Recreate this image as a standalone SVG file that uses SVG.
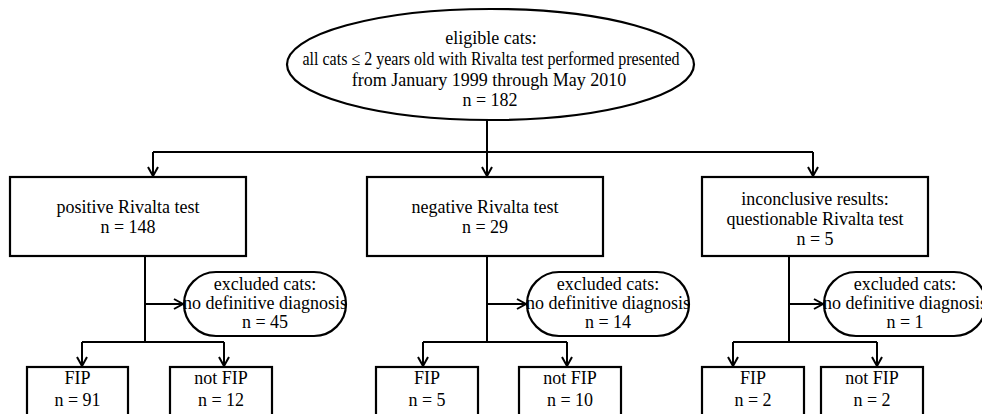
<svg xmlns="http://www.w3.org/2000/svg" width="982" height="414" viewBox="0 0 982 414">
<defs>
<marker id="arr" markerUnits="userSpaceOnUse" markerWidth="14" markerHeight="14" viewBox="-12 -7 14 14" refX="0" refY="0" orient="auto">
<path d="M-9,-5 L0,0 L-9,5" fill="none" stroke="#000" stroke-width="2"/>
</marker>
</defs>
<style>
.n{fill:#fff;stroke:#000;stroke-width:2.2}
.c{fill:none;stroke:#000;stroke-width:2}
.a{marker-end:url(#arr)}
text{font-family:"Liberation Serif","Times New Roman",serif;font-size:18px;text-anchor:middle;fill:#000}
</style>
<rect width="982" height="414" fill="#fff"/>
<g id="connectors">
<path class="c" d="M487,120 V152 M153,152 H813"/>
<path class="c a" d="M153,152 V176"/>
<path class="c a" d="M487,152 V176"/>
<path class="c a" d="M813,152 V176"/>
<path class="c" d="M145,257 V342 M82,342 H224"/>
<path class="c a" d="M145,304 H183"/>
<path class="c a" d="M82,342 V366"/>
<path class="c a" d="M224,342 V366"/>
<path class="c" d="M487,257 V342 M423,342 H567"/>
<path class="c a" d="M487,304 H526"/>
<path class="c a" d="M423,342 V366"/>
<path class="c a" d="M567,342 V366"/>
<path class="c" d="M789,257 V342 M733,342 H877"/>
<path class="c a" d="M789,304 H823"/>
<path class="c a" d="M733,342 V366"/>
<path class="c a" d="M877,342 V366"/>
</g>
<g id="eligible">
<ellipse class="n" cx="490.5" cy="64.5" rx="203.5" ry="55.5"/>
<text x="491" y="44">eligible cats:</text>
<text x="491" y="65" textLength="377" lengthAdjust="spacingAndGlyphs">all cats ≤ 2 years old with Rivalta test performed presented</text>
<text x="489" y="86">from January 1999 through May 2010</text>
<text x="490" y="106">n = 182</text>
</g>
<g id="positive">
<rect class="n" x="10" y="177" width="236" height="79"/>
<text x="128" y="213">positive Rivalta test</text>
<text x="128" y="233">n = 148</text>
</g>
<g id="negative">
<rect class="n" x="367" y="177" width="236" height="79"/>
<text x="485" y="213">negative Rivalta test</text>
<text x="485" y="233">n = 29</text>
</g>
<g id="inconclusive">
<rect class="n" x="702" y="177" width="226" height="79"/>
<text x="815" y="205">inconclusive results:</text>
<text x="815" y="225">questionable Rivalta test</text>
<text x="815" y="245">n = 5</text>
</g>
<g id="excl1">
<rect class="n" x="184" y="272" width="162" height="64" rx="32" ry="32"/>
<text x="265" y="290">excluded cats:</text>
<text x="265" y="309">no definitive diagnosis</text>
<text x="265" y="328">n = 45</text>
</g>
<g id="excl2">
<rect class="n" x="527" y="272" width="162" height="64" rx="32" ry="32"/>
<text x="608" y="290">excluded cats:</text>
<text x="608" y="309">no definitive diagnosis</text>
<text x="608" y="328">n = 14</text>
</g>
<g id="excl3">
<rect class="n" x="824" y="272" width="162" height="64" rx="32" ry="32"/>
<text x="905" y="290">excluded cats:</text>
<text x="905" y="309">no definitive diagnosis</text>
<text x="905" y="328">n = 1</text>
</g>
<g id="fip1">
<rect class="n" x="27" y="367" width="101" height="60"/>
<text x="77.5" y="384">FIP</text>
<text x="77.5" y="406">n = 91</text>
</g>
<g id="notfip1">
<rect class="n" x="170" y="367" width="102" height="60"/>
<text x="221" y="384">not FIP</text>
<text x="221" y="406">n = 12</text>
</g>
<g id="fip2">
<rect class="n" x="376" y="367" width="102" height="60"/>
<text x="427" y="384">FIP</text>
<text x="427" y="406">n = 5</text>
</g>
<g id="notfip2">
<rect class="n" x="519" y="367" width="102" height="60"/>
<text x="570" y="384">not FIP</text>
<text x="570" y="406">n = 10</text>
</g>
<g id="fip3">
<rect class="n" x="702" y="367" width="102" height="60"/>
<text x="753" y="384">FIP</text>
<text x="753" y="406">n = 2</text>
</g>
<g id="notfip3">
<rect class="n" x="821" y="367" width="102" height="60"/>
<text x="872" y="384">not FIP</text>
<text x="872" y="406">n = 2</text>
</g>
</svg>
